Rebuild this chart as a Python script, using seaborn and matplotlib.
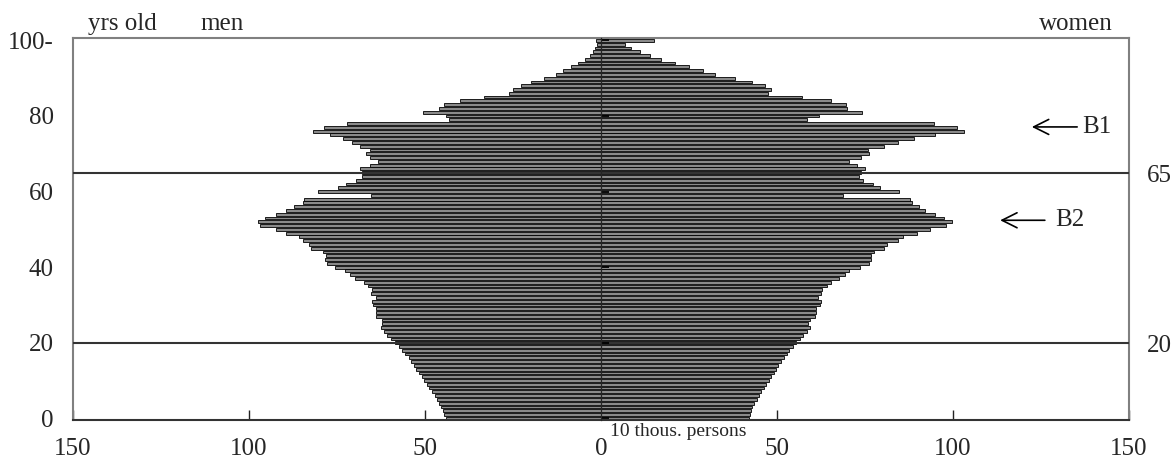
import numpy as np
import pandas as pd
import matplotlib
matplotlib.use("Agg")
import matplotlib.pyplot as plt
import seaborn as sns

# =========================
# DATOS (10 thous. persons), edad 0 ... 100+
# =========================
edades = list(range(0, 101))

hombres = [
    44.1, 44.6, 45.0, 45.5, 46.0, 46.6, 47.2, 48.0, 48.8, 49.5,   # 0-9
    50.3, 50.9, 51.7, 52.5, 53.2, 54.0, 54.6, 55.7, 56.4, 57.5,   # 10-19
    58.6, 59.8, 60.7, 61.6, 62.5, 62.1, 62.2, 63.8, 63.8, 63.8,   # 20-29
    64.7, 65.0, 64.0, 65.2, 65.1, 66.3, 67.3, 69.9, 71.4, 72.7,   # 30-39
    75.5, 77.8, 78.3, 78.2, 78.9, 82.4, 83.0, 84.8, 85.9, 89.4,   # 40-49
    92.4, 96.8, 97.4, 95.5, 92.4, 89.6, 87.1, 84.8, 84.3, 65.2,   # 50-59
    80.5, 74.7, 72.5, 69.5, 67.9, 68.0, 68.4, 65.7, 63.4, 65.7,   # 60-69
    66.9, 65.7, 68.4, 70.6, 73.3, 77.1, 81.8, 78.6, 72.2, 43.3,   # 70-79
    43.9, 50.7, 46.1, 44.5, 40.0, 33.2, 26.1, 25.0, 22.8, 20.0,   # 80-89
    16.3, 12.9, 10.8, 8.4, 6.4, 4.6, 3.2, 2.3, 1.7, 1.1,          # 90-99
    1.3,                                                          # 100-
]

mujeres = [
    42.0, 42.2, 42.6, 43.0, 43.6, 44.2, 44.8, 45.5, 46.2, 47.0,   # 0-9
    47.6, 48.4, 49.1, 49.7, 50.4, 51.1, 51.9, 52.7, 53.5, 54.5,   # 10-19
    55.5, 56.5, 57.5, 58.4, 59.3, 58.9, 59.3, 60.9, 61.1, 61.0,   # 20-29
    62.3, 62.5, 61.6, 62.6, 62.7, 64.1, 65.2, 67.6, 69.4, 70.5,   # 30-39
    73.7, 76.0, 76.7, 76.8, 77.5, 80.4, 81.3, 84.3, 85.9, 89.8,   # 40-49
    93.6, 97.9, 99.7, 97.4, 94.9, 92.0, 90.3, 88.3, 87.9, 68.8,   # 50-59
    84.8, 79.2, 77.3, 74.5, 73.2, 74.0, 74.9, 72.8, 70.5, 74.0,   # 60-69
    76.0, 75.8, 80.4, 84.4, 88.8, 94.9, 103.0, 101.0, 94.6, 58.5, # 70-79
    62.0, 74.1, 69.9, 69.7, 65.3, 57.2, 47.4, 48.2, 46.5, 43.0,   # 80-89
    38.0, 32.5, 29.1, 25.0, 21.0, 17.0, 14.0, 11.2, 8.6, 6.7,     # 90-99
    15.1,                                                         # 100-
]

etiquetas_y = ["0", "20", "40", "60", "80", "100-"]
ticks_y = [0, 20, 40, 60, 80, 100]
ticks_x = [-150, -100, -50, 0, 50, 100, 150]
etiquetas_x = ["150", "100", "50", "0", "50", "100", "150"]
lineas_edad = [65, 20]

df = pd.DataFrame({"edad": edades,
                   "hombres": [-v for v in hombres],
                   "mujeres": mujeres})

# =========================
# FIGURA
# =========================
sns.set_style("white")
plt.rcParams["font.family"] = ["Liberation Serif", "DejaVu Serif"]
plt.rcParams["font.size"] = 18

fig = plt.figure(figsize=(11.75, 4.7), dpi=100)
ax = fig.add_axes([73 / 1175, 1 - 420 / 470, 1056 / 1175, 381.5 / 470])

gris = "#8a8a8a"
for col in ["hombres", "mujeres"]:
    sns.barplot(data=df, x=col, y="edad", orient="h", native_scale=True,
                color=gris, saturation=1, edgecolor="black", linewidth=0.6,
                width=0.75, errorbar=None, ax=ax)

ax.set_xlim(-150, 150)
ax.set_ylim(-0.45, 100.5)
ax.set_xlabel("")
ax.set_ylabel("")

ax.set_yticks(ticks_y)
ax.set_yticklabels(etiquetas_y)
ax.set_xticks(ticks_x)
ax.set_xticklabels(etiquetas_x)
ax.tick_params(axis="y", length=0, pad=14, labelsize=18)
ax.tick_params(axis="x", direction="in", length=7, width=1.0, color="#222222",
               pad=13, labelsize=18, bottom=True)

for s in ["left", "top", "right"]:
    ax.spines[s].set_color("#808080")
    ax.spines[s].set_linewidth(1.5)
ax.spines["bottom"].set_color("#333333")
ax.spines["bottom"].set_linewidth(1.5)

# eje central con marcas
eje = ax.secondary_yaxis(0.5)
eje.set_yticks(ticks_y)
eje.set_yticklabels([])
eje.tick_params(length=6, width=1.3, color="black")
eje.spines["right"].set_linewidth(0.9)
eje.spines["left"].set_linewidth(0.9)
eje.set_zorder(5)

# lineas de 65 y 20 años
for e in lineas_edad:
    ax.axhline(e, color="#333333", linewidth=1.5, zorder=4)
    ax.text(1.017, e - 0.8, str(e), transform=ax.get_yaxis_transform(),
            ha="left", va="center", fontsize=18)

# flechas B1, B2
ax.annotate("B1", xy=(122.4, 77.1), xytext=(136.6, 77.1), ha="left", va="center",
            fontsize=18,
            arrowprops=dict(arrowstyle="->,head_length=0.6,head_width=0.3",
                            color="black", lw=1.2, shrinkA=1, shrinkB=0))
ax.annotate("B2", xy=(113.4, 52.4), xytext=(129.0, 52.4), ha="left", va="center",
            fontsize=18,
            arrowprops=dict(arrowstyle="->,head_length=0.6,head_width=0.3",
                            color="black", lw=1.2, shrinkA=5, shrinkB=0))

# textos
ax.text(2.6, -0.03, "10 thous. persons", transform=ax.get_xaxis_transform(),
        ha="left", va="center", fontsize=14)
fig.text(88 / 1175, 1 - 24 / 470, "yrs old", ha="left", va="center", fontsize=18)
fig.text(200 / 1175, 1 - 24 / 470, "men", ha="left", va="center", fontsize=18)
fig.text(1113 / 1175, 1 - 24 / 470, "women", ha="right", va="center", fontsize=18)

plt.savefig("out.png", dpi=100)
